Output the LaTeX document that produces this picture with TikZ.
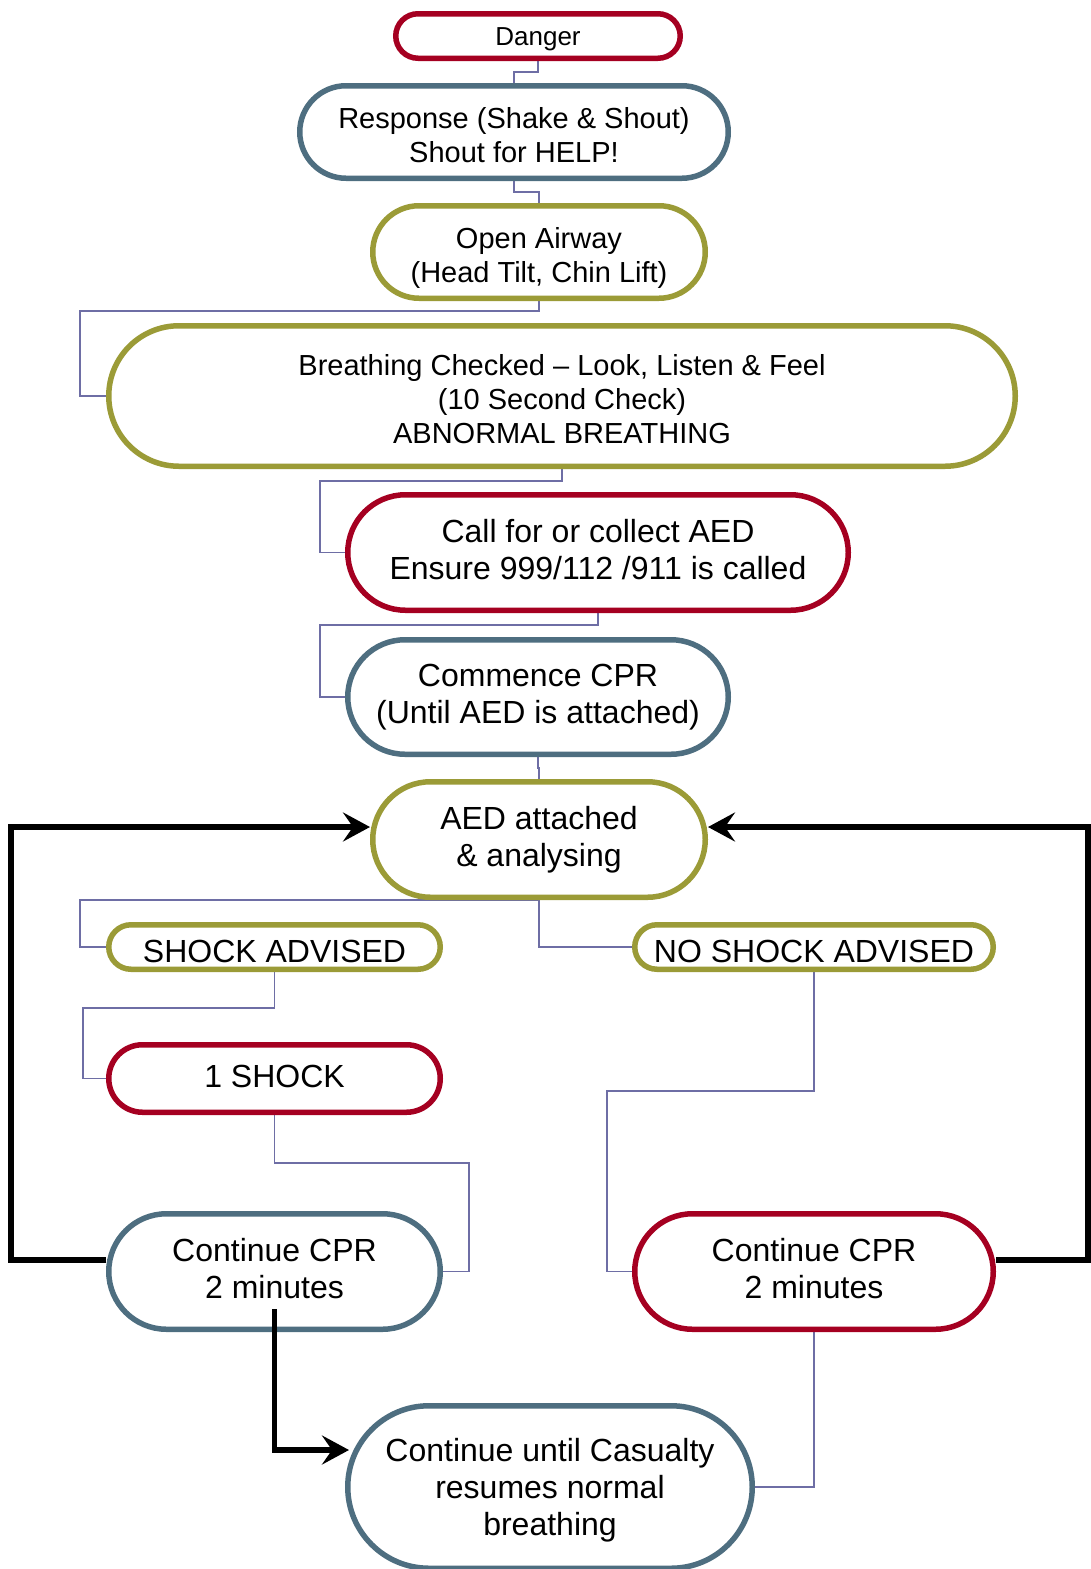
\documentclass[tikz,border=0pt]{standalone}
\usepackage{fontspec}
\setmainfont{Liberation Sans}
\usetikzlibrary{arrows.meta,backgrounds}
\definecolor{cred}{HTML}{A50021}
\definecolor{cblue}{HTML}{4E6E80}
\definecolor{colive}{HTML}{9B9B37}
\definecolor{cconn}{HTML}{6E6EA5}
\tikzset{
  pill/.style={draw, line width=5.5pt, fill=white, inner sep=0pt},
  redpill/.style={pill, draw=cred},
  bluepill/.style={pill, draw=cblue},
  olivepill/.style={pill, draw=colive},
  fA/.style={align=center, inner sep=0pt, font=\fontsize{26}{29.9}\selectfont},
  fB/.style={align=center, inner sep=0pt, font=\fontsize{29}{33.8}\selectfont},
  fC/.style={align=center, inner sep=0pt, font=\fontsize{32}{37}\selectfont},
  conn/.style={draw=cconn, line width=1.6pt},
  blk/.style={draw=black, line width=5.5pt, -{Stealth[length=27pt,width=29pt,inset=10pt]}}
}
\begin{document}
\begin{tikzpicture}[x=1pt,y=-1pt]
\useasboundingbox (0,0) rectangle (1091,1569);
% boxes (text placed at the centre, nudged as in the reference)
\node[redpill,minimum width=284.5pt,minimum height=44.5pt,rounded corners=22.25pt,
  label={[fA,yshift=-3.5pt]center:{Danger}}] (danger) at (538,36) {};
\node[bluepill,minimum width=428.5pt,minimum height=92.5pt,rounded corners=46.25pt,
  label={[fB,yshift=-3pt]center:{Response (Shake \& Shout)\\Shout for HELP!}}] (resp) at (514,132) {};
\node[olivepill,minimum width=332.5pt,minimum height=92.5pt,rounded corners=46.25pt,
  label={[fB,yshift=-6pt]center:{Open Airway\\(Head Tilt, Chin Lift)}}] (airway) at (539,252) {};
\node[olivepill,minimum width=906.5pt,minimum height=140.5pt,rounded corners=70.25pt,
  label={[fB,yshift=-3pt]center:{Breathing Checked – Look, Listen \& Feel\\(10 Second Check)\\ABNORMAL BREATHING}}] (breath) at (562,396) {};
\node[redpill,minimum width=500.5pt,minimum height=115.5pt,rounded corners=57.75pt,
  label={[fC,yshift=2.5pt]center:{Call for or collect AED\\Ensure 999/112 /911 is called}}] (call) at (598,552.5) {};
\node[bluepill,minimum width=380.5pt,minimum height=114.5pt,rounded corners=57.25pt,
  label={[fC,yshift=-0.5pt]center:{Commence CPR\\(Until AED is attached)}}] (commence) at (538,697) {};
\node[olivepill,minimum width=332.5pt,minimum height=115.5pt,rounded corners=57.75pt,
  label={[fC]center:{AED attached\\\& analysing}}] (aed) at (539,839.5) {};
\node[olivepill,minimum width=331.5pt,minimum height=44.5pt,rounded corners=22.25pt,
  label={[fC,yshift=-4.7pt]center:{SHOCK ADVISED}}] (shockadv) at (274.5,947) {};
\node[olivepill,minimum width=358.5pt,minimum height=44.5pt,rounded corners=22.25pt,
  label={[fC,yshift=-4.7pt]center:{NO SHOCK ADVISED}}] (noshock) at (814,947) {};
\node[redpill,minimum width=331.5pt,minimum height=67.5pt,rounded corners=33.75pt,
  label={[fC,yshift=2.5pt]center:{1 SHOCK}}] (oneshock) at (274.5,1078.5) {};
\node[bluepill,minimum width=331.5pt,minimum height=115.5pt,rounded corners=57.75pt,
  label={[fC,yshift=3pt]center:{Continue CPR\\2 minutes}}] (cprL) at (274.5,1271.5) {};
\node[redpill,minimum width=358.5pt,minimum height=115.5pt,rounded corners=57.75pt,
  label={[fC,yshift=3pt]center:{Continue CPR\\2 minutes}}] (cprR) at (814,1271.5) {};
\node[bluepill,minimum width=404.5pt,minimum height=162.5pt,rounded corners=81.25pt,
  label={[fC,yshift=-3pt]center:{Continue until Casualty\\resumes normal\\breathing}}] (until) at (550,1487) {};
% thin connectors behind the boxes
\begin{pgfonlayer}{background}
\draw[conn] (danger.south) -- ++(0,11) -| (resp.north);
\draw[conn] (resp.south) -- ++(0,11) -| (airway.north);
\draw[conn] (airway.south) -- ++(0,10) -| ([xshift=-26pt]breath.west) -- (breath.west);
\draw[conn] (breath.south) -- ++(0,12) -| ([xshift=-25pt]call.west) -- (call.west);
\draw[conn] (call.south) -- ++(0,12) -| ([xshift=-25pt]commence.west) -- (commence.west);
\draw[conn] (commence.south) -- ++(0,11) -| (aed.north);
\draw[conn] (aed.south) -- ([xshift=-26pt]shockadv.west |- aed.south) -- ([xshift=-26pt]shockadv.west) -- (shockadv.west);
\draw[conn] (aed.south) |- (noshock.west);
\draw[conn] (shockadv.south) -- ++(0,36) -| ([xshift=-23pt]oneshock.west) -- (oneshock.west);
\draw[conn] (oneshock.south) -- ++(0,48) -| ([xshift=26pt]cprL.east) -- (cprL.east);
\draw[conn] (noshock.south) -- ++(0,119) -| ([xshift=-25pt]cprR.west) -- (cprR.west);
\draw[conn] (cprR.south) |- (until.east);
\end{pgfonlayer}
% thick black loop arrows
\coordinate (L) at (11,0);
\coordinate (R) at (1088,0);
\coordinate (s3) at (274.5,1309);
\draw[blk] ([yshift=11.5pt]cprL.west) coordinate (a1) -- (a1 -| L) |- ([yshift=12.5pt]aed.west);
\draw[blk] ([yshift=11.5pt]cprR.east) coordinate (b1) -- (b1 -| R) |- ([yshift=12.5pt]aed.east);
\draw[blk] (s3) |- ([xshift=4pt,yshift=37pt]until.west);
\end{tikzpicture}
\end{document}
